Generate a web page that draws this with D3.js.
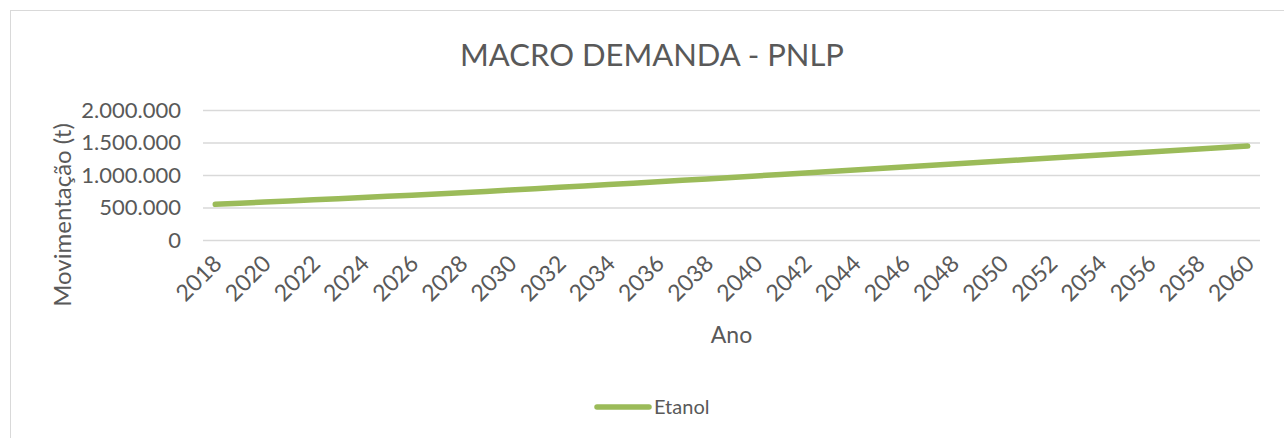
<!DOCTYPE html>
<html>
<head>
<meta charset="utf-8">
<script src="https://cdn.jsdelivr.net/npm/d3@7"></script>
<style>
    html, body { margin: 0; padding: 0; background: #ffffff; }
    #lineChart { width: 1284px; height: 438px; }
    text { font-family: Lato, "Open Sans", sans-serif; fill: #595959; }
</style>
</head>
<body>
<div id="lineChart"></div>
<script>
// Data
const years = d3.range(2018, 2061).map(String);
const yearLabels = ["2018", "2020", "2022", "2024", "2026", "2028", "2030", "2032", "2034", "2036", "2038",
    "2040", "2042", "2044", "2046", "2048", "2050", "2052", "2054", "2056", "2058", "2060"];
const etanol = [549000, 566000, 583000, 600000, 618000, 636000, 654000, 672000, 690000, 709000,
    728000, 748000, 768000, 789000, 810000, 831000, 852000, 874000, 896000, 918000,
    940000, 962000, 985000, 1008000, 1031000, 1054000, 1077000, 1100000, 1123000, 1146000,
    1169000, 1192000, 1215000, 1238000, 1261000, 1284000, 1307000, 1330000, 1353000, 1376000,
    1399000, 1422000, 1445000];
const yTicks = [0, 500000, 1000000, 1500000, 2000000];

setupGraph();

function setupGraph() {
    const W = 1284, H = 438;
    // Plot area (pixel box of the Excel plot area)
    const plot = {left: 203, right: 1260, top: 110, bottom: 240};

    const container = d3.select("#lineChart");
    const svg = container.append("svg")
        .attr("width", W)
        .attr("height", H);

    // Chart area border
    svg.append("rect")
        .attr("x", 10.5).attr("y", 10.5)
        .attr("width", W + 20).attr("height", H + 20)
        .attr("fill", "none")
        .attr("stroke", "#d9d9d9");

    // Scales
    const x = d3.scaleBand()
        .domain(years)
        .range([plot.left, plot.right])
        .padding(0);
    const cx = d => x(d) + x.bandwidth() / 2;

    const y = d3.scaleLinear()
        .domain([0, 2000000])
        .range([plot.bottom, plot.top]);

    const fmt = v => d3.format(",")(v).replace(/,/g, ".");

    // Y grid + labels
    const yAxis = svg.append("g")
        .attr("transform", `translate(${plot.left},0)`)
        .call(d3.axisLeft(y)
            .tickValues(yTicks)
            .tickSize(-(plot.right - plot.left))
            .tickPadding(22)
            .tickFormat(fmt));
    yAxis.select(".domain").remove();
    yAxis.selectAll(".tick line")
        .attr("stroke", "#d9d9d9")
        .attr("stroke-width", 1.3);
    yAxis.selectAll(".tick text")
        .style("font-size", "22px")
        .style("font-family", "Lato, sans-serif")
        .attr("fill", "#595959");

    // X labels, rotated
    const xAxis = svg.append("g")
        .attr("transform", `translate(0,${plot.bottom})`)
        .call(d3.axisBottom(x)
            .tickValues(yearLabels)
            .tickSize(0)
            .tickPadding(0));
    xAxis.select(".domain").remove();
    xAxis.selectAll(".tick text")
        .style("font-size", "23px")
        .style("font-family", "Lato, sans-serif")
        .attr("fill", "#595959")
        .style("text-anchor", "end")
        .attr("dx", "0")
        .attr("dy", "0")
        .attr("transform", "translate(8,25) rotate(-45)");

    // The line
    const line = d3.line()
        .x((d, i) => cx(years[i]))
        .y(d => y(d));

    svg.append("path")
        .datum(etanol)
        .attr("fill", "none")
        .attr("stroke", "#9bbb59")
        .attr("stroke-width", 5.5)
        .attr("stroke-linecap", "round")
        .attr("stroke-linejoin", "round")
        .attr("d", line);

    // Title
    svg.append("text")
        .attr("x", 652)
        .attr("y", 66)
        .attr("text-anchor", "middle")
        .style("font-size", "31px")
        .text("MACRO DEMANDA - PNLP");

    // Axis titles
    svg.append("text")
        .attr("x", (plot.left + plot.right) / 2)
        .attr("y", 343)
        .attr("text-anchor", "middle")
        .style("font-size", "23px")
        .text("Ano");

    svg.append("text")
        .attr("transform", "translate(71,215) rotate(-90)")
        .attr("text-anchor", "middle")
        .style("font-size", "24px")
        .text("Movimentação (t)");

    // Legend
    const legend = svg.append("g");
    legend.append("line")
        .attr("x1", 597).attr("x2", 649)
        .attr("y1", 407).attr("y2", 407)
        .attr("stroke", "#9bbb59")
        .attr("stroke-width", 5.5)
        .attr("stroke-linecap", "round");
    legend.append("text")
        .attr("x", 654)
        .attr("y", 414)
        .style("font-size", "20px")
        .text("Etanol");
}
</script>
</body>
</html>
